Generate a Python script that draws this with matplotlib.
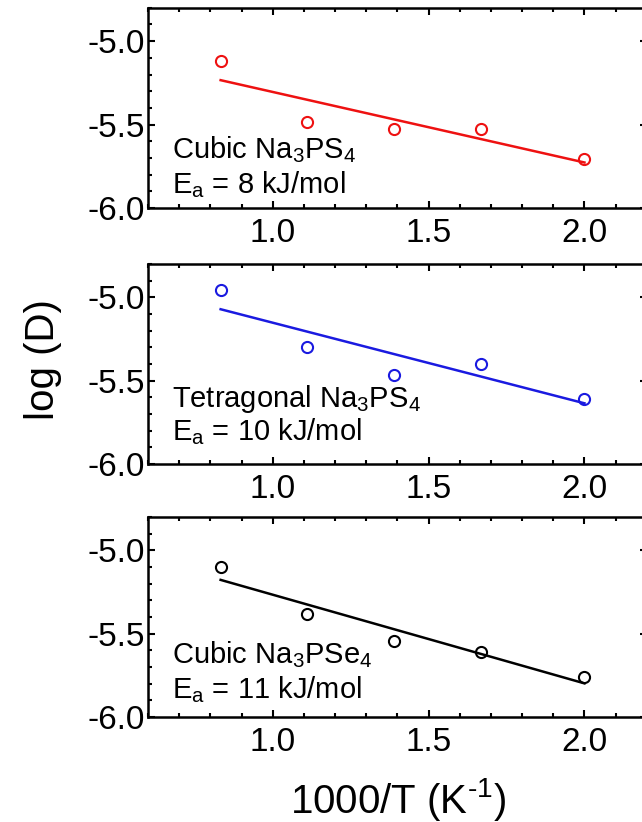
import numpy as np
import matplotlib.pyplot as plt
from matplotlib.ticker import MultipleLocator

plt.rcParams['font.family'] = ['Liberation Sans', 'DejaVu Sans']
plt.rcParams['mathtext.fontset'] = 'custom'
plt.rcParams['mathtext.rm'] = 'Liberation Sans'
plt.rcParams['mathtext.it'] = 'Liberation Sans:italic'

# data: 1000/T and log(D)
inv_T = [0.833, 1.111, 1.389, 1.667, 2.0]
logD_cubic_ps4 = [-5.117, -5.485, -5.529, -5.529, -5.708]
logD_tetra_ps4 = [-4.957, -5.298, -5.469, -5.398, -5.608]
logD_cubic_pse4 = [-5.100, -5.384, -5.544, -5.608, -5.760]
names = ['Cubic Na$_3$PS$_4$', 'Tetragonal Na$_3$PS$_4$', 'Cubic Na$_3$PSe$_4$']
energies = ['8', '10', '11']

series = [logD_cubic_ps4, logD_tetra_ps4, logD_cubic_pse4]
colors = ['#ee1111', '#1a1ae0', 'black']
bottoms = [0.747, 0.4355, 0.1277]
text_y = [(0.248, 0.073), (0.285, 0.12), (0.268, 0.093)]

fig = plt.figure(figsize=(6.42, 8.22), dpi=100)

for i, vals in enumerate(series):
    ax = fig.add_axes([0.2305, bottoms[i], 0.777, 0.2435])
    ax.plot(inv_T, vals, 'o', mfc='none', mec=colors[i], ms=8, mew=1.5)
    # least-squares Arrhenius fit
    k, b = np.polyfit(inv_T, vals, 1)
    xs = np.array([inv_T[0], inv_T[-1]])
    ax.plot(xs, k * xs + b, '-', color=colors[i], lw=1.8)
    ax.set_xlim(0.6, 2.2)
    ax.set_ylim(-6.0, -4.8)
    ax.xaxis.set_major_locator(MultipleLocator(0.5))
    ax.xaxis.set_minor_locator(MultipleLocator(0.1))
    ax.yaxis.set_major_locator(MultipleLocator(0.5))
    ax.yaxis.set_minor_locator(MultipleLocator(0.1))
    ax.xaxis.set_major_formatter(lambda v, p: f'{v:.1f}')
    ax.yaxis.set_major_formatter(lambda v, p: f'{v:.1f}')
    ax.tick_params(which='both', direction='in', top=True, right=True, width=1.5)
    ax.tick_params(which='major', length=5, labelsize=24)
    ax.tick_params(which='minor', length=3)
    ax.tick_params(axis='x', pad=7)
    ax.tick_params(axis='y', pad=2)
    for s in ax.spines.values():
        s.set_linewidth(1.8)
    ax.text(0.048, text_y[i][0], names[i], transform=ax.transAxes,
            fontsize=21, va='baseline')
    ax.text(0.048, text_y[i][1], 'E$_\\mathrm{a}$ = ' + energies[i] + ' kJ/mol',
            transform=ax.transAxes, fontsize=21, va='baseline')

fig.text(0.067, 0.562, 'log (D)', rotation=90, fontsize=29, ha='center', va='center')
fig.text(0.62, 0.027, '1000/T (K$^{\\text{-1}}$)', fontsize=29, ha='center', va='center')

plt.savefig('out.png', dpi=100)
